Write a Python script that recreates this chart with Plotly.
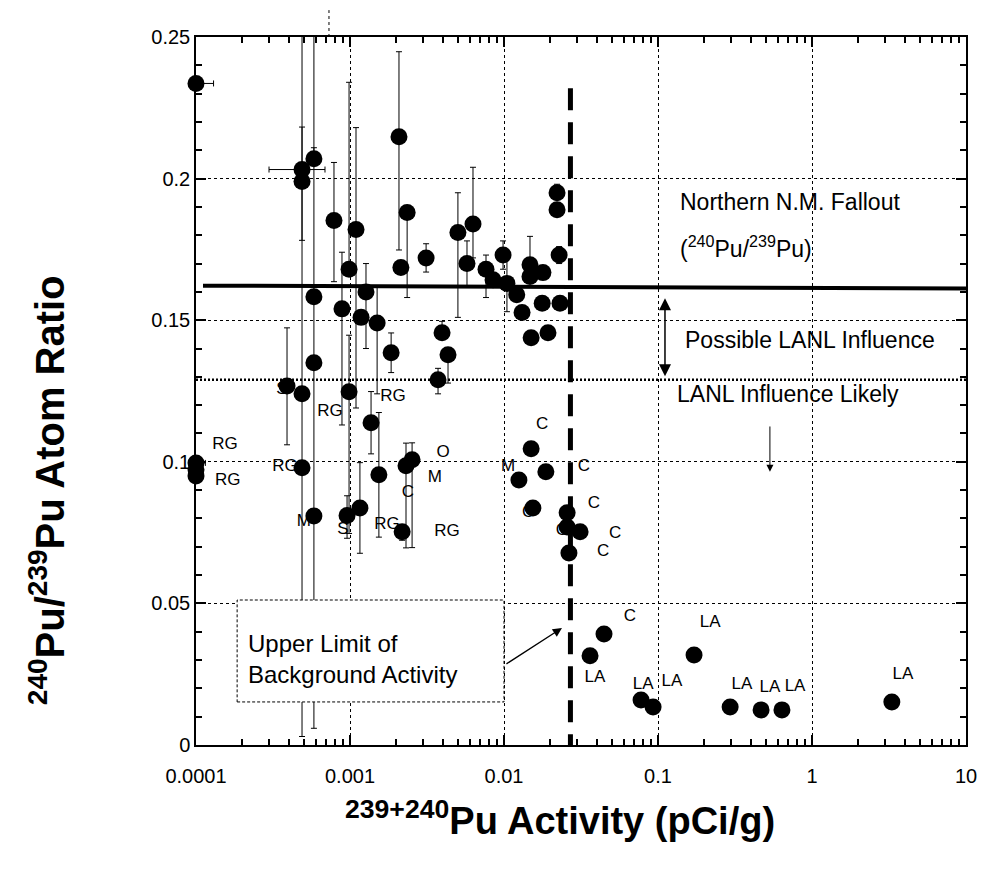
import numpy as np
import plotly.graph_objects as go

# ---------------- data ----------------
activity = [1.0e-4, 1.0e-4, 1.0e-4, 1.0e-4, 3.9e-4, 4.88e-4, 4.88e-4, 4.88e-4, 4.88e-4,
            5.83e-4, 5.83e-4, 5.83e-4, 5.83e-4, 7.87e-4, 1.094e-3, 9.86e-4, 8.87e-4,
            1.18e-3, 1.50e-3, 1.27e-3, 9.86e-4, 1.37e-3, 1.85e-3, 1.54e-3, 9.57e-4,
            1.16e-3, 2.18e-3, 2.31e-3, 2.53e-3, 2.08e-3, 2.35e-3, 2.14e-3, 3.12e-3,
            5.02e-3, 6.29e-3, 5.75e-3, 9.86e-3, 7.64e-3, 8.49e-3, 1.045e-2, 1.21e-2,
            1.31e-2, 1.475e-2, 1.475e-2, 1.79e-2, 1.77e-2, 2.31e-2, 2.28e-2, 2.21e-2,
            2.21e-2, 1.50e-2, 1.93e-2, 3.73e-3, 3.96e-3, 4.33e-3, 1.50e-2, 1.25e-2,
            1.87e-2, 1.54e-2, 2.57e-2, 2.57e-2, 3.12e-2, 2.64e-2, 4.46e-2, 3.62e-2,
            0.1714, 0.0776, 0.0929, 0.294, 0.467, 0.638, 3.30]
ratio = [0.2336, 0.0996, 0.0972, 0.0950, 0.1268, 0.2032, 0.1990, 0.1240, 0.0979,
         0.2070, 0.1583, 0.1350, 0.0809, 0.1852, 0.1820, 0.1680, 0.1540,
         0.1510, 0.1490, 0.1600, 0.1247, 0.1138, 0.1385, 0.0954, 0.0810,
         0.0837, 0.0753, 0.0986, 0.1007, 0.2148, 0.1880, 0.1686, 0.1720,
         0.1810, 0.1840, 0.1700, 0.1730, 0.1680, 0.1643, 0.1630, 0.1590,
         0.1527, 0.1696, 0.1654, 0.1668, 0.1560, 0.1560, 0.1730, 0.1950,
         0.1890, 0.1438, 0.1456, 0.1290, 0.1456, 0.1378, 0.1046, 0.0936,
         0.0965, 0.0837, 0.0820, 0.0770, 0.0753, 0.0678, 0.0392, 0.0315,
         0.0318, 0.0159, 0.0134, 0.0134, 0.0124, 0.0124, 0.0152]
err_up = [0, 0.002, 0, 0, 0.0205, 0.015, 0.060, 0, 0,
          0.050, 0, 0, 0.130, 0.0205, 0.036, 0.066, 0.020,
          0, 0.013, 0.010, 0.020, 0.011, 0.007, 0.022, 0.007,
          0.016, 0.002, 0.008, 0.006, 0.030, 0, 0, 0.005,
          0.014, 0.020, 0.008, 0.005, 0.005, 0, 0.010, 0,
          0, 0.010, 0, 0, 0, 0, 0.003, 0.003,
          0, 0, 0, 0.004, 0.004, 0, 0, 0,
          0, 0, 0, 0, 0, 0, 0, 0,
          0, 0, 0, 0, 0, 0, 0]
err_dn = [0, 0.002, 0, 0, 0.0208, 0.025, 0.196, 0, 0,
          0, 0, 0, 0.075, 0.0216, 0.063, 0, 0.041,
          0, 0.025, 0.020, 0.050, 0.011, 0.007, 0.022, 0.008,
          0.016, 0.003, 0.029, 0.031, 0.040, 0.030, 0, 0.005,
          0.030, 0.012, 0.008, 0.005, 0.010, 0, 0.010, 0,
          0, 0, 0, 0, 0, 0, 0.003, 0,
          0, 0, 0, 0.005, 0, 0.010, 0, 0,
          0, 0, 0, 0, 0, 0, 0, 0,
          0, 0, 0, 0, 0, 0, 0]
xerr_up = [0.3e-4, 0.15e-4] + [0] * 3 + [2.0e-4] + [0] * 66
xerr_dn = [0, 0] + [0] * 3 + [1.9e-4] + [0] * 66

label_text = ["RG", "RG", "S", "RG", "RG", "RG", "M", "S", "RG", "C", "O", "M", "RG",
              "C", "C", "M", "C", "C", "C", "C", "C", "C",
              "LA", "LA", "LA", "LA", "LA", "LA", "LA", "LA"]
label_x = [1.54e-4, 1.61e-4, 3.61e-4, 3.78e-4, 7.41e-4, 1.90e-3, 5.02e-4, 9.01e-4, 1.74e-3,
           2.38e-3, 4.02e-3, 3.56e-3, 4.27e-3,
           0.01432, 0.01766, 0.01062, 0.033, 0.0384, 0.0526, 0.0440, 0.0238, 0.0657,
           0.039, 0.080, 0.1233, 0.218, 0.351, 0.533, 0.776, 3.90]
label_y = [0.106, 0.0933, 0.1254, 0.0982, 0.1177, 0.123, 0.0788, 0.076, 0.0777,
           0.089, 0.1032, 0.0943, 0.0753,
           0.082, 0.1131, 0.0982, 0.0982, 0.0852, 0.0746, 0.0682, 0.0756, 0.0452,
           0.0237, 0.0212, 0.0223, 0.0431, 0.0212, 0.0201, 0.0205, 0.0247]

fallout_x = [1.11e-4, 10.0]
fallout_ratio = [0.1622, 0.1612]
lanl_x = [1.0e-4, 10.0]
lanl_ratio = [0.129, 0.129]
bkg_x = [0.027, 0.027]
bkg_ratio = [-0.004, 0.2325]
box_x = [1.85e-4, 0.0100, 0.0100, 1.85e-4, 1.85e-4]
box_y = [0.0152, 0.0152, 0.0512, 0.0512, 0.0152]

FONT = "Arial, Liberation Sans, sans-serif"

fig = go.Figure()

# LANL dotted threshold
fig.add_trace(go.Scatter(x=lanl_x, y=lanl_ratio, mode="lines",
                         line=dict(color="black", width=2.5, dash="2px,2px"),
                         hoverinfo="skip", showlegend=False))

# error bars (clipped)
fig.add_trace(go.Scatter(
    x=activity, y=ratio, mode="markers",
    marker=dict(size=1, color="rgba(0,0,0,0)"),
    error_y=dict(type="data", symmetric=False, array=err_up, arrayminus=err_dn,
                 color="black", thickness=1, width=3),
    error_x=dict(type="data", symmetric=False, array=xerr_up, arrayminus=xerr_dn,
                 color="black", thickness=1, width=3),
    showlegend=False, hoverinfo="skip"))

# points
fig.add_trace(go.Scatter(x=activity, y=ratio, mode="markers",
                         marker=dict(size=17, color="black", line=dict(width=0)),
                         cliponaxis=False, showlegend=False))

# site labels
fig.add_trace(go.Scatter(x=label_x, y=label_y, mode="text", text=label_text,
                         textfont=dict(family=FONT, size=17, color="black"),
                         cliponaxis=False, showlegend=False, hoverinfo="skip"))

# fallout line
fig.add_trace(go.Scatter(x=fallout_x, y=fallout_ratio, mode="lines",
                         line=dict(color="black", width=4),
                         showlegend=False, hoverinfo="skip"))

# background activity dashed line
fig.add_trace(go.Scatter(x=bkg_x, y=bkg_ratio, mode="lines",
                         line=dict(color="black", width=5, dash="22px,12px"),
                         showlegend=False, hoverinfo="skip"))

# box
fig.add_trace(go.Scatter(x=box_x, y=box_y, mode="lines", fill="toself",
                         fillcolor="white",
                         line=dict(color="black", width=1, dash="3px,2px"),
                         showlegend=False, hoverinfo="skip"))

L = np.log10
annotations = [
    dict(x=L(0.135), y=0.1919, xref="x", yref="y", text="Northern N.M. Fallout",
         showarrow=False, xanchor="left", yanchor="middle", font=dict(size=23)),
    dict(x=L(0.135), y=0.176, xref="x", yref="y",
         text="(<sup>240</sup>Pu/<sup>239</sup>Pu)",
         showarrow=False, xanchor="left", yanchor="middle", font=dict(size=23)),
    dict(x=L(0.145), y=0.1431, xref="x", yref="y", text="Possible LANL Influence",
         showarrow=False, xanchor="left", yanchor="middle", font=dict(size=23)),
    dict(x=L(0.129), y=0.124, xref="x", yref="y", text="LANL Influence Likely",
         showarrow=False, xanchor="left", yanchor="middle", font=dict(size=23)),
    dict(x=L(2.10e-4), y=0.0304, xref="x", yref="y",
         text="Upper Limit of<br>Background Activity",
         showarrow=False, xanchor="left", yanchor="middle", align="left",
         font=dict(size=24)),
    # double arrow
    dict(x=L(0.111), y=0.1302, ax=L(0.111), ay=0.1583, xref="x", yref="y",
         axref="x", ayref="y", text="", showarrow=True, arrowhead=2, arrowside="end+start",
         arrowsize=1.6, arrowwidth=1.5, arrowcolor="black"),
    # arrow for likely influence
    dict(x=L(0.533), y=0.0965, ax=L(0.533), ay=0.113, xref="x", yref="y",
         axref="x", ayref="y", text="", showarrow=True, arrowhead=2,
         arrowsize=1.4, arrowwidth=1, arrowcolor="black"),
    # box arrow
    dict(x=L(0.0238), y=0.0413, ax=L(0.01014), ay=0.0283, xref="x", yref="y",
         axref="x", ayref="y", text="", showarrow=True, arrowhead=2,
         arrowsize=1.4, arrowwidth=1.3, arrowcolor="black"),
    # axis titles
    dict(x=0.4727, y=-0.103, xref="paper", yref="paper",
         text="<b><sup>239+240</sup>Pu Activity (pCi/g)</b>", showarrow=False,
         xanchor="center", yanchor="middle", font=dict(size=38)),
    dict(x=-0.1935, y=0.36, xref="paper", yref="paper",
         text="<b><sup>240</sup>Pu/<sup>239</sup>Pu Atom Ratio</b>", showarrow=False,
         xanchor="center", yanchor="middle", textangle=-90, font=dict(size=40)),
]

fig.update_layout(
    width=993, height=870,
    margin=dict(l=196, r=27, t=37, b=125),
    paper_bgcolor="white", plot_bgcolor="white",
    font=dict(family=FONT, color="black", size=20),
    annotations=annotations,
    showlegend=False,
    shapes=[dict(type="line", xref="paper", yref="paper", x0=0.1727, x1=0.1727,
                 y0=1.0, y1=1.038, line=dict(color="black", width=1, dash="dot"))],
)

fig.update_xaxes(
    type="log", range=[-4, 1],
    tickmode="linear", tick0=0, dtick=1, tickformat=".4~f",
    ticks="inside", ticklen=10, tickwidth=1.5, tickcolor="black",
    showline=True, linecolor="black", linewidth=1.5, mirror="allticks",
    showgrid=True, gridcolor="black", gridwidth=1, griddash="dot",
    minor=dict(ticks="inside", ticklen=6, tickwidth=1.5, tickcolor="black",
               showgrid=False),
    tickfont=dict(size=20), ticklabelstandoff=12, zeroline=False,
)
fig.update_yaxes(
    range=[0, 0.25],
    tickmode="linear", tick0=0, dtick=0.05,
    ticks="inside", ticklen=10, tickwidth=1.5, tickcolor="black",
    showline=True, linecolor="black", linewidth=1.5, mirror="allticks",
    showgrid=True, gridcolor="black", gridwidth=1, griddash="dot",
    minor=dict(tick0=0, dtick=0.01, ticks="inside", ticklen=6,
               tickwidth=1.5, tickcolor="black", showgrid=False),
    tickfont=dict(size=20), zeroline=False,
)

fig.write_html("out.html")
